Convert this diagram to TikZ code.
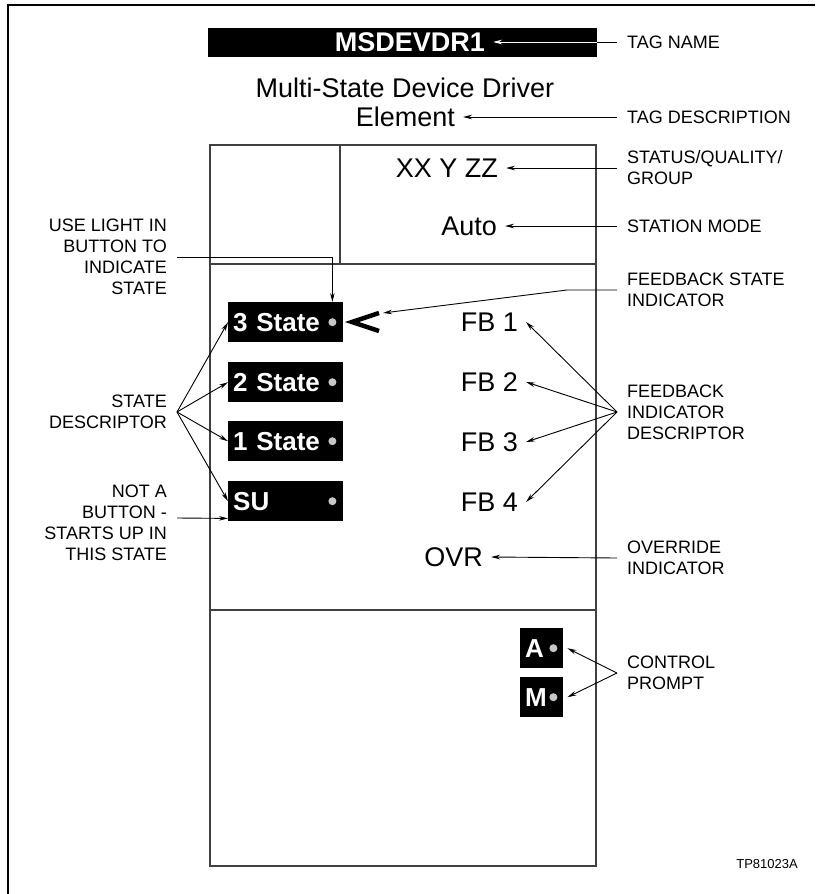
\documentclass[tikz,border=0pt]{standalone}
\usepackage{fontspec}
\setmainfont{Liberation Sans}
\usetikzlibrary{arrows.meta}
\newcommand\notefont{\fontsize{18}{21}\selectfont}
\newcommand\readfont{\fontsize{27}{29}\selectfont}
\newcommand\btnfont{\fontsize{26}{28}\selectfont\bfseries}

\begin{document}
\begin{tikzpicture}[x=1pt,y=-1pt,
  >={Stealth[length=9pt,width=4.5pt]},
  panel/.style={draw=black!75,line width=1.3pt},
  lead/.style={line width=0.9pt},
  readout/.style={font=\readfont,inner xsep=8pt,inner ysep=0pt},
  noteR/.style={font=\notefont,align=left,anchor=west,inner xsep=10pt,inner ysep=0pt},
  noteL/.style={font=\notefont,align=right,anchor=east,inner xsep=10pt,inner ysep=0pt},
  button/.style={fill=black,text=white,font=\btnfont,anchor=north west,minimum height=40pt,
    text width=#1,inner xsep=5pt,inner ysep=0pt,align=left},
  button/.default=105pt,
  lamp/.style={circle,fill=black!22,inner sep=0pt,minimum size=8pt}]
\useasboundingbox (0,0) rectangle (815,894);
% frame and faceplate
\draw[line width=1.5pt] (8,894) -- (8,5) -- (815,5);
\draw[panel] (210,145) rectangle (596,866);
\draw[panel] (340,145) -- (340,264);
\draw[panel] (210,264) -- (596,264);
\draw[panel] (210,610) -- (596,610);

% tag name and description
\node[fill=black,minimum width=389pt,minimum height=29pt,inner sep=0pt] (tagbar) at (402.5,42.5) {};
\node[readout,font=\readfont\bfseries,text=white,anchor=east] (tagname) at (493,42) {MSDEVDR1};
\node[noteR] (tagnamelbl) at (617,42) {TAG NAME};
\draw[lead] (tagnamelbl.west) -- (tagbar.east |- tagnamelbl.west);
\draw[lead,white,->] (tagbar.east |- tagname.east) -- (tagname.east);
\node[readout] (desc1) at (405,88) {Multi-State Device Driver};
\node[readout,anchor=east] (desc2) at (463,117) {Element};
\node[noteR] (desclbl) at (617,117) {TAG DESCRIPTION};
\draw[lead,->] (desclbl.west) -- (desc2.east);

% status and mode
\node[readout,anchor=east] (status) at (506,168) {XX Y ZZ};
\node[noteR] (statuslbl) at (617,168) {STATUS/QUALITY/\\GROUP};
\draw[lead,->] (statuslbl.west) -- (status.east);
\node[readout,anchor=east] (mode) at (505,226) {Auto};
\node[noteR] (modelbl) at (617,226) {STATION MODE};
\draw[lead,->] (modelbl.west) -- (mode.east);

% state buttons
\node[button] (st3) at (228,302) {3 State};
\node[lamp] (lamp3) at ([xshift=-11pt]st3.east) {};
\node[button] (st2) at (228,362) {2 State};
\node[lamp] (lamp2) at ([xshift=-11pt]st2.east) {};
\node[button] (st1) at (228,421) {1 State};
\node[lamp] (lamp1) at ([xshift=-11pt]st1.east) {};
\node[button] (su) at (228,481) {SU};
\node[lamp] (lampsu) at ([xshift=-11pt]su.east) {};

\node[noteL] (lightlbl) at (177,257) {USE LIGHT IN\\BUTTON TO\\INDICATE\\STATE};
\draw[lead,->] (lightlbl.east) -| (lamp3 |- st3.north);
\node[noteL] (statelbl) at (177,412) {STATE\\DESCRIPTOR};
\draw[lead,->] (statelbl.east) -- (st3.west);
\draw[lead,->] (statelbl.east) -- (st2.west);
\draw[lead,->] (statelbl.east) -- (st1.west);
\draw[lead,->] (statelbl.east) -- (su.west);
\node[noteL] (notbtnlbl) at (177,523) {NOT A\\BUTTON -\\STARTS UP IN\\THIS STATE};
\draw[lead,->] ([yshift=5pt]notbtnlbl.east) -- ([yshift=3pt]su.south west);

% feedback state
\draw[line width=4.5pt] (379,313) -- (352,322) -- (379,331);
\coordinate (chevtip) at (383,313);
\node[noteR] (fbstatelbl) at (617,290) {FEEDBACK STATE\\INDICATOR};
\draw[lead,->] (fbstatelbl.west) -- ++(-50,0) -- (chevtip);

\node[readout,anchor=east] (fb1) at (526,322) {FB 1};
\node[readout,anchor=east] (fb2) at (526,382) {FB 2};
\node[readout,anchor=east] (fb3) at (526,442) {FB 3};
\node[readout,anchor=east] (fb4) at (526,502) {FB 4};
\node[noteR] (fbdesclbl) at (617,412) {FEEDBACK\\INDICATOR\\DESCRIPTOR};
\draw[lead,->] (fbdesclbl.west) -- (fb1.east);
\draw[lead,->] (fbdesclbl.west) -- (fb2.east);
\draw[lead,->] (fbdesclbl.west) -- (fb3.east);
\draw[lead,->] (fbdesclbl.west) -- (fb4.east);

\node[readout,anchor=east] (ovr) at (491,557) {OVR};
\node[noteR] (ovrlbl) at (617,558) {OVERRIDE\\INDICATOR};
\draw[lead,->] (ovrlbl.west) -- (ovr.east);

% control prompt
\node[button=33pt] (ctla) at (520,628) {A};
\node[lamp] (lampa) at ([xshift=-10pt]ctla.east) {};
\node[button=33pt] (ctlm) at (520,677) {M};
\node[lamp] (lampm) at ([xshift=-10pt]ctlm.east) {};
\node[noteR] (ctllbl) at (617,673) {CONTROL\\PROMPT};
\draw[lead,->] (ctllbl.west) -- ([xshift=4pt]ctla.east);
\draw[lead,->] (ctllbl.west) -- ([xshift=4pt]ctlm.east);

\node[font=\fontsize{13}{15}\selectfont,anchor=east,inner sep=0pt] (figid) at (798,864) {TP81023A};
\end{tikzpicture}
\end{document}
